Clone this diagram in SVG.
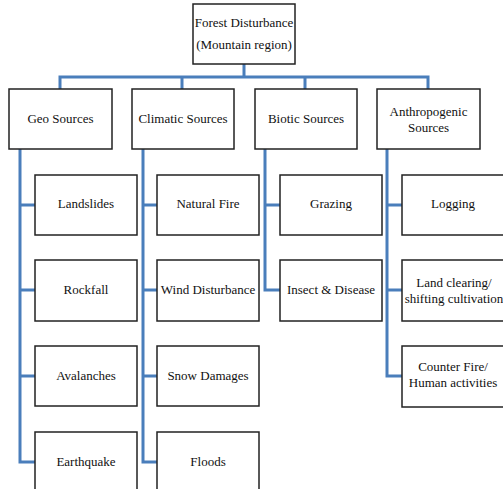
<svg xmlns="http://www.w3.org/2000/svg" width="503" height="489" viewBox="0 0 503 489">
<style>
.box{fill:#fff;stroke:#222;stroke-width:1.5}
.t{font-family:"Liberation Serif","Times New Roman",serif;font-size:13px;fill:#111;text-anchor:middle}
.c{fill:none;stroke:#4A7EBB;stroke-width:3;stroke-linejoin:miter}
</style>
<rect width="503" height="489" fill="#fff"/>
<g id="connectors">
<path class="c" d="M244,64V77M60,89V77H428V89M182,77V89M305,77V89"/>
<path class="c" d="M20,149V462H35M20,205H35M20,290H35M20,376H35"/>
<path class="c" d="M143,149V462H157M143,205H157M143,290H157M143,376H157"/>
<path class="c" d="M265,149V290H280M265,205H280"/>
<path class="c" d="M387,149V376H402M387,205H402M387,290H402"/>
</g>
<g id="root"><rect class="box" x="193" y="4" width="102" height="60"/><text class="t" x="244" y="27">Forest Disturbance</text><text class="t" x="244" y="49">(Mountain region)</text></g>
<g id="geo"><rect class="box" x="9" y="89" width="103" height="60"/><text class="t" x="60.5" y="123">Geo Sources</text></g>
<g id="climatic"><rect class="box" x="132" y="89" width="102" height="60"/><text class="t" x="183" y="123">Climatic Sources</text></g>
<g id="biotic"><rect class="box" x="255" y="89" width="102" height="60"/><text class="t" x="306" y="123">Biotic Sources</text></g>
<g id="anthro"><rect class="box" x="377" y="89" width="103" height="60"/><text class="t" x="428.5" y="116">Anthropogenic</text><text class="t" x="428.5" y="132">Sources</text></g>
<g id="landslides"><rect class="box" x="35" y="175" width="102" height="60"/><text class="t" x="86" y="208">Landslides</text></g>
<g id="rockfall"><rect class="box" x="35" y="260" width="102" height="61"/><text class="t" x="86" y="294">Rockfall</text></g>
<g id="avalanches"><rect class="box" x="35" y="346" width="102" height="60"/><text class="t" x="86" y="380">Avalanches</text></g>
<g id="earthquake"><rect class="box" x="35" y="432" width="102" height="60"/><text class="t" x="86" y="466">Earthquake</text></g>
<g id="naturalfire"><rect class="box" x="157" y="175" width="102" height="60"/><text class="t" x="208" y="208">Natural Fire</text></g>
<g id="wind"><rect class="box" x="157" y="260" width="102" height="61"/><text class="t" x="208" y="294">Wind Disturbance</text></g>
<g id="snow"><rect class="box" x="157" y="346" width="102" height="60"/><text class="t" x="208" y="380">Snow Damages</text></g>
<g id="floods"><rect class="box" x="157" y="432" width="102" height="60"/><text class="t" x="208" y="466">Floods</text></g>
<g id="grazing"><rect class="box" x="280" y="175" width="102" height="60"/><text class="t" x="331" y="208">Grazing</text></g>
<g id="insect"><rect class="box" x="280" y="260" width="102" height="61"/><text class="t" x="331" y="294">Insect &amp; Disease</text></g>
<g id="logging"><rect class="box" x="402" y="175" width="103" height="60"/><text class="t" x="453" y="208">Logging</text></g>
<g id="landclearing"><rect class="box" x="402" y="260" width="103" height="61"/><text class="t" x="454" y="287">Land clearing/</text><text class="t" x="454" y="303">shifting cultivation</text></g>
<g id="counterfire"><rect class="box" x="402" y="346" width="103" height="61"/><text class="t" x="453" y="371">Counter Fire/</text><text class="t" x="453" y="387">Human activities</text></g>
</svg>
